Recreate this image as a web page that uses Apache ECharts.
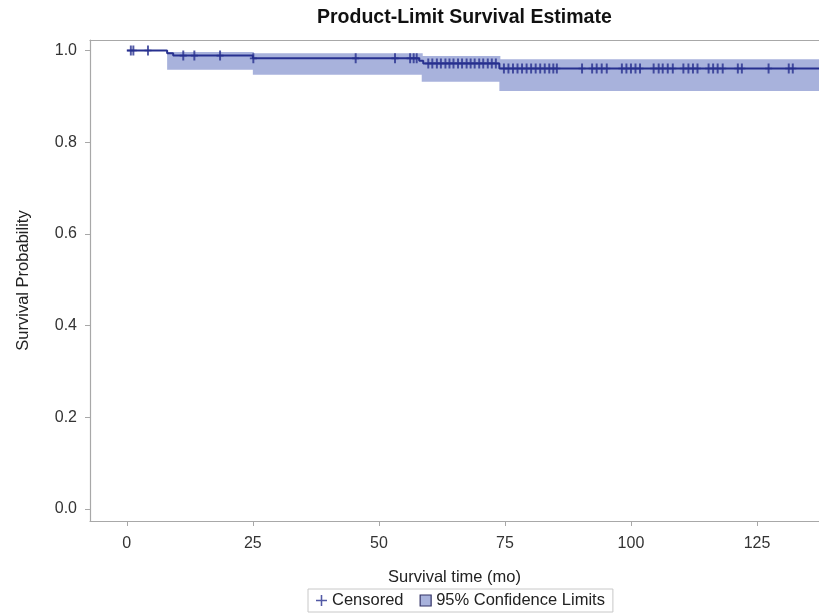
<!DOCTYPE html>
<html>
<head>
<meta charset="utf-8">
<script src="https://cdn.jsdelivr.net/npm/echarts@6/dist/echarts.min.js"></script>
<style>
html,body{margin:0;padding:0;background:#fff;}
#c{width:819px;height:614px;}
</style>
</head>
<body>
<div id="c"></div>
<script>
// Kaplan-Meier step curve (value holds from each time onward)
const kmTimes = [0, 8.0, 9.2, 25.0, 58.0, 58.8, 73.9, 140];
const kmSurv  = [1.0, 0.994, 0.989, 0.983, 0.978, 0.972, 0.961, 0.961];

// 95% confidence band (each value holds from its time to the next)
const ciTimes = [8.0, 25.0, 58.5, 73.9, 140];
const ciLower = [0.958, 0.947, 0.932, 0.912, 0.912];
const ciUpper = [0.997, 0.994, 0.988, 0.981, 0.981];

// Censored observation times
const censorTimes = [0.8, 1.3, 4.2, 11.2, 13.4, 18.5, 25.1, 45.4, 53.2, 56.2, 56.9, 57.5,
  59.8, 60.6, 61.5, 62.3, 63.2, 64.0, 64.8, 65.7, 66.5, 67.4, 68.2, 69.0, 69.9, 70.7, 71.6, 72.4, 73.2,
  74.8, 75.7, 76.6, 77.5, 78.4, 79.3, 80.2, 81.1, 82.0, 82.9, 83.8, 84.6, 85.3,
  90.3, 92.3, 93.2, 94.2, 95.2, 98.2, 99.1, 100.0, 100.9, 101.8,
  104.5, 105.5, 106.3, 107.3, 108.3, 110.4, 111.4, 112.3, 113.2,
  115.4, 116.3, 117.2, 118.2, 121.2, 122.0, 127.3, 131.3, 132.1];

const xTicks = [0, 25, 50, 75, 100, 125];
const yTicks = [0, 0.2, 0.4, 0.6, 0.8, 1.0];

function survAt(t) {
  let v = kmSurv[0];
  for (let i = 0; i < kmTimes.length; i++) { if (kmTimes[i] <= t) v = kmSurv[i]; }
  return v;
}

const bandData = [];
for (let i = 0; i < ciTimes.length - 1; i++) {
  bandData.push([ciTimes[i], ciTimes[i + 1], ciLower[i], ciUpper[i]]);
}

const FONT = "'Liberation Sans', Arial, sans-serif";
const LINE = '#27308f';
const BAND = '#a8b2dc';
const AXIS = '#a8a8a8';
const plusPath = 'path://M0,4.2H10V5.8H0Z M3.6,0H6.4V10H3.6Z';
const legendPlus = 'path://M0,4.3H10V5.7H0Z M4.3,0H5.7V10H4.3Z';
const X_MIN = -7.3, X_MAX = 137.3;

const chart = echarts.init(document.getElementById('c'));
chart.setOption({
  animation: false,
  backgroundColor: '#fff',
  title: {
    text: 'Product-Limit Survival Estimate',
    left: 317, top: 8, padding: 0,
    textStyle: {fontFamily: FONT, fontSize: 19.5, fontWeight: 'bold', color: '#111'}
  },
  grid: {left: 90, top: 40, right: 0, bottom: 93, show: false},
  xAxis: [{
    type: 'value', min: X_MIN, max: X_MAX,
    name: 'Survival time (mo)', nameLocation: 'middle', nameGap: 48,
    nameTextStyle: {fontFamily: FONT, fontSize: 16.5, color: '#222'},
    axisLine: {show: true, onZero: false, lineStyle: {color: AXIS, width: 1.2}},
    axisTick: {show: true, length: 5, lineStyle: {color: AXIS}, customValues: xTicks},
    axisLabel: {fontFamily: FONT, fontSize: 16, color: '#333', margin: 15, customValues: xTicks},
    splitLine: {show: false}
  }, {
    type: 'value', min: X_MIN, max: X_MAX, position: 'top',
    axisLine: {show: true, onZero: false, lineStyle: {color: AXIS, width: 1.2}},
    axisTick: {show: false}, axisLabel: {show: false}, splitLine: {show: false}
  }],
  yAxis: {
    type: 'value', min: -0.026, max: 1.023,
    name: 'Survival Probability', nameLocation: 'middle', nameGap: 58, nameRotate: 90,
    nameTextStyle: {fontFamily: FONT, fontSize: 16.5, color: '#222'},
    axisLine: {show: true, onZero: false, lineStyle: {color: AXIS, width: 1.2}},
    axisTick: {show: true, length: 5, lineStyle: {color: AXIS}, customValues: yTicks},
    axisLabel: {fontFamily: FONT, fontSize: 16, color: '#333', margin: 13, customValues: yTicks,
      formatter: v => v.toFixed(1)},
    splitLine: {show: false}
  },
  legend: {
    left: 308, top: 589, padding: [3, 8], itemGap: 16,
    borderColor: '#c8c8c8', borderWidth: 1,
    itemWidth: 11, itemHeight: 11,
    textStyle: {fontFamily: FONT, fontSize: 16.5, color: '#222'},
    data: [
      {name: 'Censored', icon: legendPlus, itemStyle: {color: LINE}},
      {name: '95% Confidence Limits', icon: 'rect', itemStyle: {color: BAND, borderColor: '#333366', borderWidth: 1.2}}
    ]
  },
  series: [
    {
      name: '95% Confidence Limits', type: 'custom', silent: true, z: 1, clip: true,
      itemStyle: {color: BAND},
      encode: {x: [0, 1], y: [2, 3]},
      renderItem: function (params, api) {
        const a = api.coord([api.value(0), api.value(3)]);
        const b = api.coord([api.value(1), api.value(2)]);
        return {
          type: 'rect',
          shape: {x: a[0], y: a[1], width: b[0] - a[0] + 1, height: b[1] - a[1]},
          style: {fill: BAND}
        };
      },
      data: bandData
    },
    {
      name: 'Survival', type: 'line', step: 'end', symbol: 'none',
      lineStyle: {color: LINE, width: 2}, z: 3,
      data: kmTimes.map((t, i) => [t, kmSurv[i]])
    },
    {
      name: 'Censored', type: 'scatter', symbol: plusPath, symbolSize: [7, 10],
      itemStyle: {color: LINE}, z: 4,
      data: censorTimes.map(t => [t, survAt(t)])
    }
  ]
});
</script>
</body>
</html>
